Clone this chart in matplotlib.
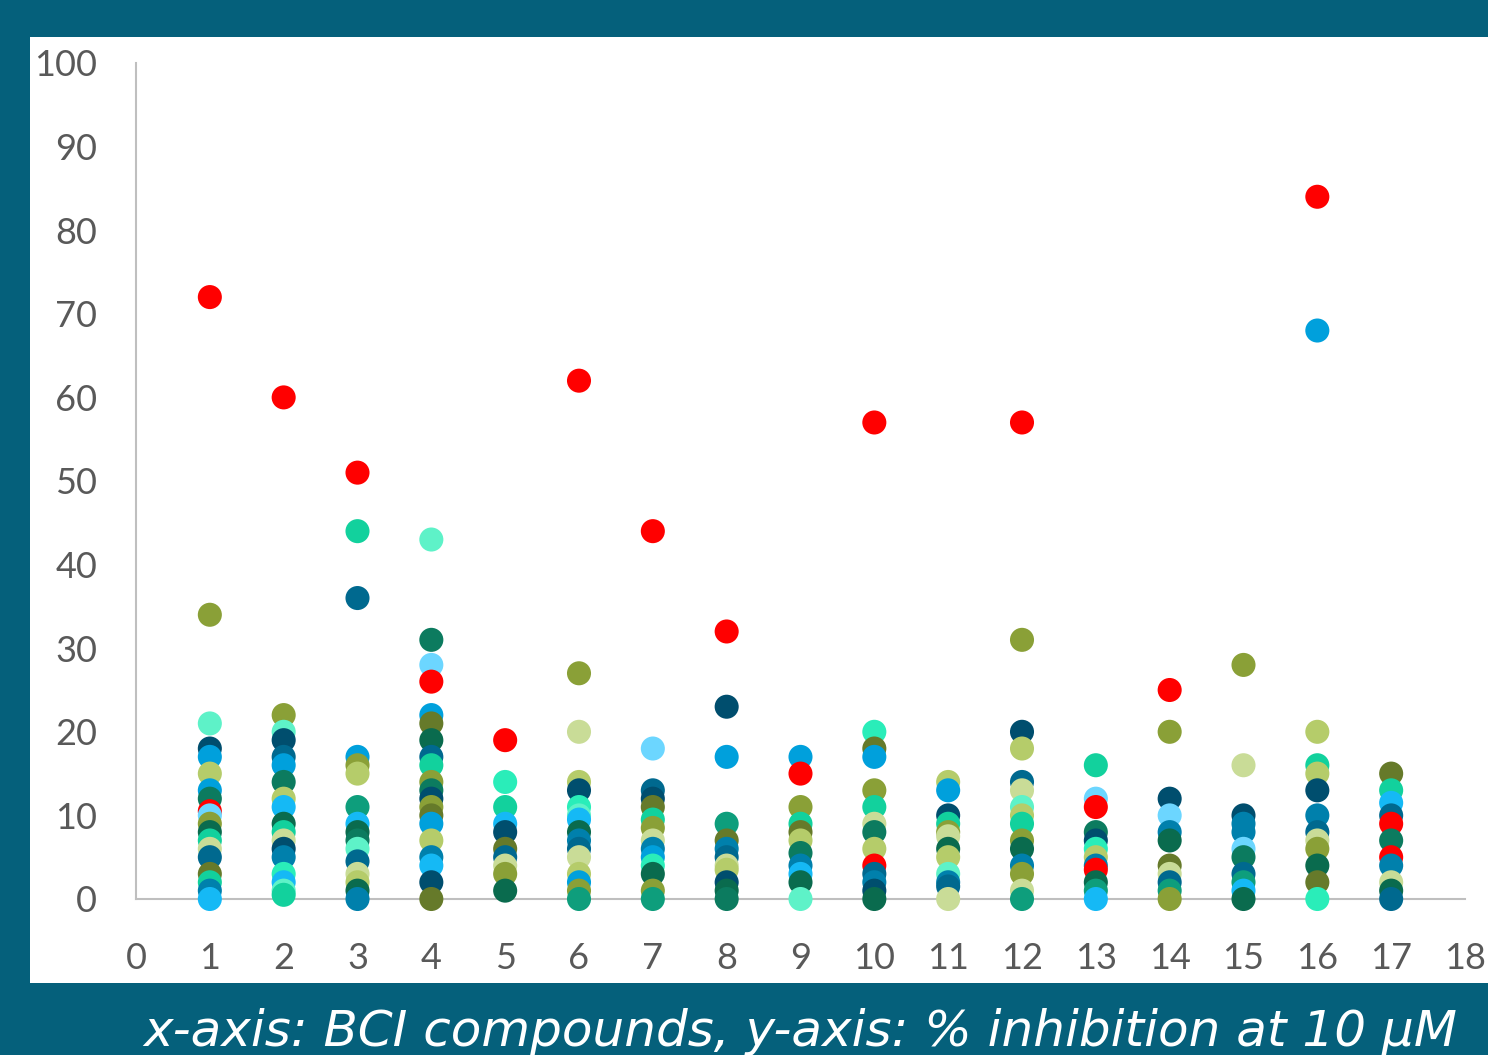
import matplotlib
matplotlib.use("Agg")
import matplotlib.pyplot as plt
from matplotlib.patches import Rectangle

# colour codes used by the point lists below
palette = {
    "R": "#FF0000", "a": "#8AA037", "b": "#667A2A", "c": "#C9DC97",
    "d": "#B5CC6A", "e": "#5EF2C8", "f": "#12D19D", "g": "#2AEDB9",
    "h": "#0E9E7C", "i": "#0A6B4E", "j": "#0C7B5F", "k": "#004E6E",
    "l": "#00A0DC", "m": "#0080AC", "n": "#6CD6FF", "o": "#15B9F5",
    "p": "#00698F",
}

compounds = list(range(1, 18))

# % inhibition per compound, with a parallel colour-code string
vals_01 = [72, 34, 21, 18, 17, 15, 13, 12, 10.5, 10, 9, 8, 7, 6, 5, 3, 2, 1, 0]
cols_01 = "RaekldljRnaifcpbfmo"
vals_02 = [60, 22, 20, 19, 17, 16, 14, 12, 11, 9, 8, 7, 6, 5, 3, 2, 1, 0.5]
cols_02 = "Raekpljdoifckmgoef"
vals_03 = [51, 44, 36, 17, 16, 15, 11, 9, 8, 7, 6, 4.5, 3, 2, 1, 0]
cols_03 = "Rfpladhoijepcdim"
vals_04 = [43, 31, 28, 26, 22, 21, 19, 17, 16, 14, 13, 12, 11, 10, 9, 7, 5, 4, 2, 0]
cols_04 = "ejnRlbipfajkabldmokb"
vals_05 = [19, 14, 11, 9, 8, 6, 5, 4, 3, 1]
cols_05 = "Rgfokbpcai"
vals_06 = [62, 27, 20, 14, 13, 11, 10, 9.5, 8, 7, 6, 5, 3, 2, 1, 0]
cols_06 = "Racdkgeoimpcdlah"
vals_07 = [44, 18, 13, 12, 11, 9.5, 8.5, 7, 6, 5, 4, 3, 1, 0]
cols_07 = "Rnpkbfacmlgiah"
vals_08 = [32, 23, 17, 9, 7, 6, 5, 4, 3.5, 2, 1, 0]
cols_08 = "Rklhbmpcdkij"
vals_09 = [17, 15, 11, 9, 8, 7, 5.5, 4, 3, 2, 0]
cols_09 = "lRafbdjmoie"
vals_10 = [57, 20, 18, 17, 13, 11, 9, 8, 6, 4, 3, 2, 1, 0]
cols_10 = "RgblafcjdRpmki"
vals_11 = [14, 13, 10, 9, 8, 7.5, 6, 5, 3, 2, 1.5, 0]
cols_11 = "dlkfacidempc"
vals_12 = [57, 31, 20, 18, 14, 13, 11, 10, 9, 7, 6, 4, 3, 1, 0]
cols_12 = "Rakdpcedfaimach"
vals_13 = [16, 12, 11, 8, 7, 6, 5, 4, 3.5, 2, 1, 0]
cols_13 = "fnRjkgdmRiho"
vals_14 = [25, 20, 12, 10, 8, 7, 4, 3, 2, 1, 0]
cols_14 = "Raknmibcpha"
vals_15 = [28, 16, 10, 9, 8, 6, 5, 3, 2, 1, 0]
cols_15 = "ackmmnjphoi"
vals_16 = [84, 68, 20, 16, 15, 13, 10, 8, 7, 6, 4, 2, 0]
cols_16 = "Rldfdkmpcaibg"
vals_17 = [15, 13, 11.5, 10, 9, 7, 5, 4, 2, 1, 0]
cols_17 = "bfopRjRmcip"

y_ticks = list(range(0, 101, 10))
x_ticks = list(range(0, 19))
caption = "x-axis: BCI compounds, y-axis: % inhibition at 10 \u00b5M"

BG = "#05607B"
TXT = "#595959"

fig = plt.figure(figsize=(14.88, 10.55), dpi=100, facecolor=BG)
# white panel behind the chart
fig.patches.append(Rectangle((30 / 1488, 72 / 1055), 1 - 30 / 1488, 946 / 1055,
                             transform=fig.transFigure, facecolor="white",
                             edgecolor="none", zorder=-5))

ax = fig.add_axes([136 / 1488, 156 / 1055, 1329 / 1488, 836 / 1055])
ax.set_facecolor("none")
ax.set_zorder(2)

all_vals = [vals_01, vals_02, vals_03, vals_04, vals_05, vals_06, vals_07, vals_08,
            vals_09, vals_10, vals_11, vals_12, vals_13, vals_14, vals_15, vals_16, vals_17]
all_cols = [cols_01, cols_02, cols_03, cols_04, cols_05, cols_06, cols_07, cols_08,
            cols_09, cols_10, cols_11, cols_12, cols_13, cols_14, cols_15, cols_16, cols_17]

for cx, vals, codes in zip(compounds, all_vals, all_cols):
    n = min(len(vals), len(codes))
    ax.scatter([cx] * n, vals[:n], s=300, c=[palette[k] for k in codes[:n]],
               edgecolors="none", clip_on=False, zorder=3)

ax.set_xlim(0, 18)
ax.set_ylim(0, 100)
ax.set_xticks(x_ticks)
ax.set_yticks(y_ticks)
for s in ("top", "right"):
    ax.spines[s].set_visible(False)
for s in ("left", "bottom"):
    ax.spines[s].set_color("#BFBFBF")
    ax.spines[s].set_linewidth(1.5)
ax.tick_params(length=0, labelsize=26, labelcolor=TXT)
ax.tick_params(axis="y", pad=28)
ax.tick_params(axis="x", pad=31)
for lab in ax.get_xticklabels() + ax.get_yticklabels():
    lab.set_family(["Lato", "DejaVu Sans"])

fig.text(800 / 1488, 1 - 1032 / 1055, caption, color="white",
         fontsize=36, style="italic", ha="center", va="center",
         family=["DejaVu Sans"])

fig.savefig("out.png", dpi=100, facecolor=BG)
